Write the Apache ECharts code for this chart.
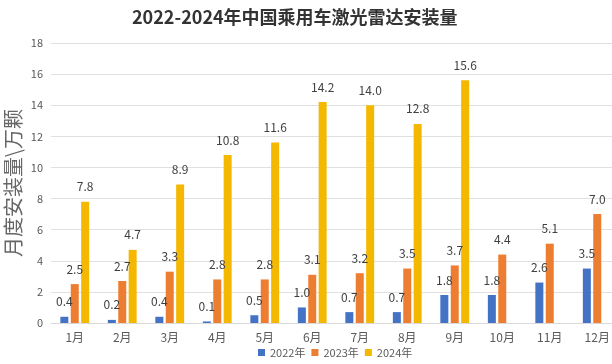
<!DOCTYPE html>
<html><head><meta charset="utf-8">
<script src="https://cdn.jsdelivr.net/npm/echarts@6/dist/echarts.min.js"></script>
<style>html,body{margin:0;padding:0;background:#fff}#c{width:612px;height:364px}</style>
</head><body><div id="c"></div>
<script>
const categories = ['1月','2月','3月','4月','5月','6月','7月','8月','9月','10月','11月','12月'];
const s2022 = [0.4,0.2,0.4,0.1,0.5,1.0,0.7,0.7,1.8,1.8,2.6,3.5];
const s2023 = [2.5,2.7,3.3,2.8,2.8,3.1,3.2,3.5,3.7,4.4,5.1,7.0];
const s2024 = [7.8,4.7,8.9,10.8,11.6,14.2,14.0,12.8,15.6,null,null,null];
const seriesNames = ['2022年','2023年','2024年'];
const colors = ['#4472C4','#ED7D31','#F5B800'];
const font = '"Noto Sans CJK SC","Noto Sans",sans-serif';
const chart = echarts.init(document.getElementById('c'));
const mk = (name, data, color) => ({
  name, type:'bar', data, barWidth:8, barGap:'30%',
  itemStyle:{color},
  label:{show:true, position:'top', distance:9, color:'#404040', fontSize:12, fontFamily:font,
    formatter: p => p.value == null ? '' : p.value.toFixed(1)}
});
chart.setOption({
  animation:false,
  textStyle:{fontFamily:font},
  title:{text:'2022-2024年中国乘用车激光雷达安装量', left:127, top:3,
    textStyle:{fontSize:18, fontWeight:'bold', color:'#333333', fontFamily:font}},
  legend:{bottom:1, left:253, itemWidth:7, itemHeight:7, itemGap:6, itemTextGap:4, icon:'rect',
    textStyle:{color:'#595959', fontSize:11, fontFamily:font}},
  grid:{left:51, right:-9, top:43, bottom:41, outerBoundsMode:'none', containLabel:false},
  xAxis:{type:'category', data:categories,
    axisLine:{lineStyle:{color:'#d9d9d9'}}, axisTick:{show:false},
    axisLabel:{color:'#595959', fontSize:12, fontFamily:font}},
  yAxis:{type:'value', min:0, max:18, interval:2,
    name:'月度安装量\\万颗', nameLocation:'middle', nameGap:28, nameRotate:90, nameMoveOverlap:false,
    nameTextStyle:{color:'#666666', fontSize:20, fontWeight:'normal', fontFamily:font},
    axisLine:{show:false}, axisTick:{show:false},
    splitLine:{lineStyle:{color:'#e0e0e0'}},
    axisLabel:{color:'#595959', fontSize:11, fontFamily:font}},
  series:[mk(seriesNames[0], s2022, colors[0]), mk(seriesNames[1], s2023, colors[1]), mk(seriesNames[2], s2024, colors[2])]
});
</script></body></html>
